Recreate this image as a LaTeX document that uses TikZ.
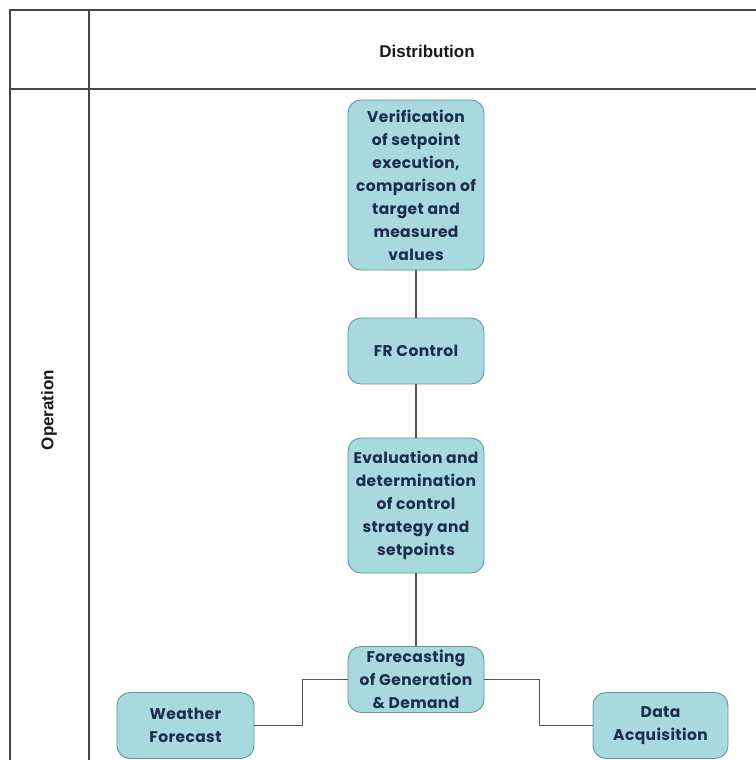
\documentclass[tikz,border=0pt]{standalone}
\usepackage{fontspec}
\setmainfont{Liberation Sans}
\newfontfamily\boxfont{Poppins}[LetterSpace=2.5]
\usetikzlibrary{positioning}
\definecolor{boxfill}{RGB}{168,217,221}
\definecolor{boxline}{RGB}{96,150,160}
\definecolor{boxtext}{RGB}{28,45,78}
\definecolor{gridline}{RGB}{70,70,70}
\definecolor{linkline}{RGB}{85,85,85}
\tikzset{
  stepbox/.style={draw=boxline, line width=0.9pt, fill=boxfill, rounded corners=13pt,
    text=boxtext, align=center, inner sep=0pt,
    font=\boxfont\bfseries\fontsize{15.5}{23}\selectfont},
  lanegrid/.style={draw=gridline, line width=1.4pt},
  link/.style={draw=linkline, line width=1.3pt},
  headtext/.style={font=\bfseries\fontsize{17}{20}\selectfont, text=black!90}
}
\begin{document}
\begin{tikzpicture}[x=1pt,y=-1pt]
\useasboundingbox (0,0) rectangle (755,760);
% swimlane frame
\draw[lanegrid] (10,760) -- (10,10) -- (760,10);
\draw[lanegrid] (10,89) -- (760,89);
\draw[lanegrid] (89,10) -- (89,760);
\node[headtext] (dist) at (427,51) {Distribution};
\node[headtext, rotate=90] (oper) at (49,410) {Operation};
% process steps
\node[stepbox, minimum width=136pt, minimum height=170pt] (ver) at (416,185)
  {Verification\\of setpoint\\execution,\\comparison of\\target and\\measured\\values};
\node[stepbox, minimum width=136pt, minimum height=66pt] (fr) at (416,351) {FR Control};
\node[stepbox, minimum width=136pt, minimum height=135pt] (eva) at (416,505.5)
  {Evaluation and\\determination\\of control\\strategy and\\setpoints};
\node[stepbox, minimum width=136pt, minimum height=66pt] (fore) at (416,679.5)
  {Forecasting\\of Generation\\\& Demand};
\node[stepbox, minimum width=137pt, minimum height=66pt] (wea) at (185.5,725.5)
  {Weather\\Forecast};
\node[stepbox, minimum width=135pt, minimum height=66pt] (dat) at (660.5,725.5)
  {Data\\Acquisition};
% connectors
\draw[link] (ver.south) -- (fr.north);
\draw[link] (fr.south) -- (eva.north);
\draw[link] (eva.south) -- (fore.north);
\draw[link] (wea.east) -- ++(48,0) |- (fore.west);
\draw[link] (fore.east) -- ++(55,0) |- (dat.west);
\end{tikzpicture}
\end{document}
